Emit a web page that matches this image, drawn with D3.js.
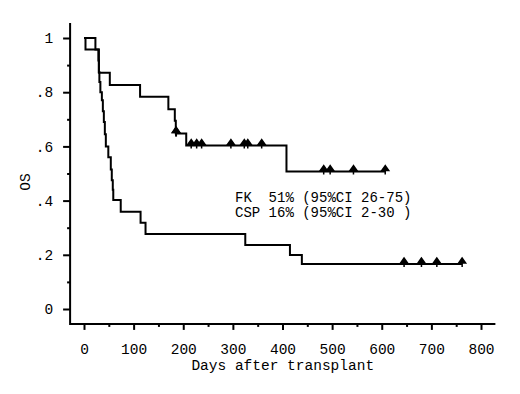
<!DOCTYPE html>
<html>
<head>
<meta charset="utf-8">
<script src="https://cdn.jsdelivr.net/npm/d3@7"></script>
<style>
  body { margin: 0; background: #fff; }
  text { font-family: "Liberation Mono", "DejaVu Sans Mono", monospace; fill: #000; }
</style>
</head>
<body>
<div id="chart"></div>
<script>
// survival curves (days, proportion surviving)
const fkTimes = [0, 23, 30, 52, 113, 170, 183, 185, 206, 408];
const fkSurv  = [1, 0.958, 0.872, 0.827, 0.783, 0.737, 0.695, 0.648, 0.603, 0.507];
const fkCensored = [185, 186, 216, 227, 237, 296, 323, 330, 358, 483, 496, 543, 607];

const cspTimes = [0, 3, 29, 30, 31, 33, 36, 38, 40, 42, 44, 49, 54, 56, 58, 59, 74, 114, 124, 325, 415, 439];
const cspSurv  = [1, 0.958, 0.917, 0.875, 0.838, 0.80, 0.77, 0.73, 0.69, 0.645, 0.60, 0.56, 0.515, 0.475, 0.44, 0.402, 0.359, 0.318, 0.277, 0.236, 0.199, 0.166];
const cspCensored = [645, 680, 711, 762];

const xTicks = [0, 100, 200, 300, 400, 500, 600, 700, 800];
const xMinorTicks = [50, 150, 250, 350, 450, 550, 650, 750];
const yTicks = [0, 0.2, 0.4, 0.6, 0.8, 1];
const yMinorTicks = [0.1, 0.3, 0.5, 0.7, 0.9];
const yTickLabels = ["0", ".2", ".4", ".6", ".8", "1"];

const legendLines = ["FK  51% (95%CI 26-75)", "CSP 16% (95%CI 2-30 )"];

const width = 520, height = 394;

const svg = d3.select("#chart")
    .append("svg")
    .attr("width", width)
    .attr("height", height);

const x = d3.scaleLinear().domain([0, 800]).range([84, 481]);
const y = d3.scaleLinear().domain([0, 1]).range([309, 38]);

// axis frame sits a little outside the data range
const xLeft = -28, xRight = 829;
const yBottom = -0.055, yTop = 1.055;

svg.append("path")
    .attr("d", `M${x(xLeft)},${y(yTop)}V${y(yBottom)}H${x(xRight)}`)
    .attr("fill", "none")
    .attr("stroke", "#000")
    .attr("stroke-width", 2);

// x axis
const xAxis = svg.append("g")
    .attr("transform", `translate(0,${y(yBottom)})`)
    .call(d3.axisBottom(x).tickValues(xTicks).tickSize(6).tickPadding(14).tickFormat(d3.format("d")));
xAxis.select(".domain").remove();
xAxis.selectAll("line").attr("stroke-width", 2);
xAxis.selectAll("text").style("font-size", "14.5px").style("font-family", null);

const xMinor = svg.append("g")
    .attr("transform", `translate(0,${y(yBottom)})`)
    .call(d3.axisBottom(x).tickValues(xMinorTicks).tickSize(3).tickFormat(""));
xMinor.select(".domain").remove();
xMinor.selectAll("line").attr("stroke-width", 2);

// y axis
const yAxis = svg.append("g")
    .attr("transform", `translate(${x(xLeft)},0)`)
    .call(d3.axisLeft(y).tickValues(yTicks).tickSize(7).tickPadding(10)
        .tickFormat((d, i) => yTickLabels[i]));
yAxis.select(".domain").remove();
yAxis.selectAll("line").attr("stroke-width", 2);
yAxis.selectAll("text").style("font-size", "14.5px").style("font-family", null);

const yMinor = svg.append("g")
    .attr("transform", `translate(${x(xLeft)},0)`)
    .call(d3.axisLeft(y).tickValues(yMinorTicks).tickSize(3).tickFormat(""));
yMinor.select(".domain").remove();
yMinor.selectAll("line").attr("stroke-width", 2);

// axis titles
svg.append("text")
    .attr("x", (x(xLeft) + x(xRight)) / 2)
    .attr("y", 370)
    .attr("text-anchor", "middle")
    .style("font-size", "14.5px")
    .text("Days after transplant");

svg.append("text")
    .attr("transform", "translate(30,182) rotate(-90)")
    .attr("text-anchor", "middle")
    .style("font-size", "14.5px")
    .text("OS");

// step curves
const line = d3.line()
    .x(d => x(d[0]))
    .y(d => y(d[1]))
    .curve(d3.curveStepAfter);

function curvePoints(times, surv, censored) {
    const pts = times.map((t, i) => [t, surv[i]]);
    const end = d3.max(censored.concat(times));
    pts.push([end, surv[surv.length - 1]]);
    return pts;
}

function survAt(times, surv, t) {
    const i = d3.bisectRight(times, t) - 1;
    return surv[Math.max(i, 0)];
}

const marker = "M0,-6L-3.5,-1L3.5,-1Z M0,-6V3";

[[fkTimes, fkSurv, fkCensored], [cspTimes, cspSurv, cspCensored]].forEach(([times, surv, cens]) => {
    svg.append("path")
        .datum(curvePoints(times, surv, cens))
        .attr("d", line)
        .attr("fill", "none")
        .attr("stroke", "#000")
        .attr("stroke-width", 2);

    svg.append("g")
        .selectAll("path")
        .data(cens)
        .enter()
        .append("path")
        .attr("transform", d => `translate(${x(d)},${y(survAt(times, surv, d))})`)
        .attr("d", marker)
        .attr("fill", "#000")
        .attr("stroke", "#000")
        .attr("stroke-width", 1.5);
});

// annotation
svg.append("g")
    .selectAll("text")
    .data(legendLines)
    .enter()
    .append("text")
    .attr("x", 235)
    .attr("y", (d, i) => 201.5 + i * 15)
    .style("font-size", "14px")
    .style("white-space", "pre")
    .text(d => d);
</script>
</body>
</html>
